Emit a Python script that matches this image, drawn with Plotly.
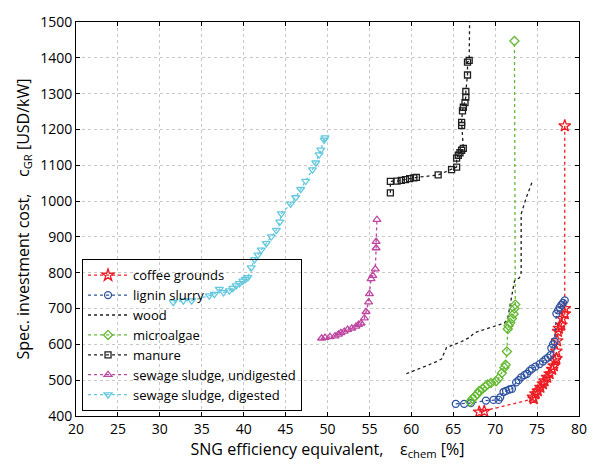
import plotly.graph_objects as go

# ---- data ----
coffee_x = [78.3, 78.3, 78.3, 78.0, 77.9, 77.6, 77.5, 77.4, 77.3, 77.3, 77.1, 77.0, 76.8, 76.5, 76.2, 75.9, 75.7, 75.4, 75.1, 74.8, 74.5, 74.6, 68.7, 68.1]
coffee_y = [1210, 700, 685, 672, 654, 645, 636, 610, 581, 560, 554, 540, 530, 518, 508, 498, 490, 480, 470, 462, 453, 448, 413, 411]

lignin_x = [65.3, 66.3, 67.1, 68.9, 69.8, 70.4, 70.6, 71.0, 71.3, 71.7, 72.0, 72.5, 72.8, 73.1, 73.5, 73.8, 74.1, 74.4, 74.8, 75.3, 75.7, 76.0, 76.3, 76.6, 76.7, 76.9, 77.1, 77.3, 77.5, 77.7, 77.9, 78.1, 78.3]
lignin_y = [434, 434, 436, 443, 445, 445, 452, 467, 470, 474, 476, 494, 500, 508, 514, 518, 526, 532, 538, 545, 552, 558, 563, 570, 590, 600, 608, 686, 695, 703, 710, 716, 723]

wood_x = [59.4, 60.2, 61.0, 62.0, 63.0, 63.6, 64.2, 65.0, 66.0, 67.0, 67.5, 68.5, 69.7, 70.5, 71.1, 71.5, 72.3, 72.9, 73.1, 73.1, 73.7, 74.5]
wood_y = [518, 525, 532, 542, 552, 559, 591, 598, 608, 620, 632, 640, 650, 655, 659, 673, 777, 786, 800, 964, 1009, 1059]

algae_x = [67.0, 67.3, 67.6, 67.9, 68.1, 68.5, 68.8, 69.1, 69.5, 70.1, 70.4, 70.8, 71.1, 71.25, 71.4, 71.5, 71.6, 71.8, 72.0, 72.2, 72.3, 72.4, 72.3]
algae_y = [440, 448, 455, 462, 470, 476, 482, 488, 492, 497, 505, 520, 535, 543, 580, 643, 652, 660, 672, 685, 700, 711, 1447]

manure_x = [57.5, 57.5, 58.3, 58.8, 59.3, 59.8, 60.3, 60.6, 63.2, 64.8, 65.4, 65.4, 65.6, 65.8, 66.0, 66.2, 66.0, 66.0, 66.1, 66.2, 66.4, 66.5, 66.5, 66.7, 66.7, 66.9, 67.0]
manure_y = [1023, 1055, 1056, 1058, 1060, 1063, 1065, 1066, 1073, 1088, 1095, 1120, 1128, 1135, 1142, 1147, 1211, 1220, 1252, 1262, 1275, 1290, 1306, 1352, 1388, 1393, 1600]

undig_x = [49.3, 49.7, 50.3, 50.9, 51.3, 51.6, 52.0, 52.4, 52.9, 53.4, 53.7, 54.0, 54.4, 54.6, 54.9, 55.0, 55.2, 55.4, 55.7, 55.8, 55.8, 55.9]
undig_y = [617, 619, 621, 623, 628, 632, 636, 641, 645, 650, 655, 659, 673, 691, 718, 741, 783, 792, 810, 869, 887, 948]

dig_x = [31.6, 32.8, 33.8, 35.9, 36.5, 37.1, 37.6, 38.3, 38.7, 39.1, 39.5, 39.9, 40.2, 40.5, 40.9, 41.3, 41.7, 42.1, 42.7, 43.3, 43.9, 44.3, 44.5, 45.6, 46.2, 46.8, 47.4, 48.2, 48.6, 49.0, 49.2, 49.6, 49.7]
dig_y = [718, 722, 722, 736, 740, 754, 745, 750, 757, 764, 770, 777, 782, 787, 814, 837, 850, 864, 882, 901, 919, 942, 965, 992, 1010, 1033, 1056, 1088, 1107, 1130, 1143, 1171, 1177]

FONT = "Open Sans"

series = [
    ("coffee grounds", coffee_x, coffee_y, "rgb(237,28,36)", "star-open", 9),
    ("lignin slurry", lignin_x, lignin_y, "rgb(46,82,160)", "circle-open", 7),
    ("wood", wood_x, wood_y, "rgb(30,30,30)", None, 0),
    ("microalgae", algae_x, algae_y, "rgb(100,185,50)", "diamond-open", 7),
    ("manure", manure_x, manure_y, "rgb(30,30,30)", "square-open", 6),
    ("sewage sludge, undigested", undig_x, undig_y, "rgb(190,70,160)", "triangle-up-open", 7),
    ("sewage sludge, digested", dig_x, dig_y, "rgb(100,200,222)", "triangle-down-open", 7),
]

fig = go.Figure()
for name, xs, ys, col, sym, size in series:
    if sym is None:
        fig.add_trace(go.Scatter(x=xs, y=ys, name=name, mode="lines",
                                 line=dict(color=col, width=1.3, dash="dot")))
    else:
        fig.add_trace(go.Scatter(x=xs, y=ys, name=name, mode="lines+markers",
                                 line=dict(color=col, width=1.3, dash="dot"),
                                 marker=dict(symbol=sym, size=size, color=col,
                                             line=dict(color=col, width=1.3))))

axis_common = dict(showline=True, linecolor="black", linewidth=1, mirror="ticks",
                   ticks="inside", ticklen=4, tickcolor="black",
                   showgrid=True, gridcolor="rgb(200,200,200)", griddash="dot", gridwidth=1,
                   zeroline=False, tickfont=dict(family=FONT, size=14, color="black"))

fig.update_xaxes(range=[20, 80], dtick=5, tick0=20, **axis_common,
                 title=dict(text="SNG efficiency equivalent,    ε<sub>chem</sub> [%]",
                            font=dict(family=FONT, size=16, color="black"), standoff=6))
fig.update_yaxes(range=[400, 1500], dtick=100, tick0=400, **axis_common,
                 title=dict(text="Spec. investment cost,    c<sub>GR</sub> [USD/kW]",
                            font=dict(family=FONT, size=16, color="black"), standoff=6))

fig.update_layout(
    width=599, height=468,
    margin=dict(l=76, r=16, t=15, b=52),
    paper_bgcolor="white", plot_bgcolor="white",
    font=dict(family=FONT, color="black"),
    legend=dict(x=0.012, y=0.012, xanchor="left", yanchor="bottom",
                bgcolor="rgba(0,0,0,0)", bordercolor="black", borderwidth=1,
                font=dict(family=FONT, size=13, color="black"),
                tracegroupgap=0, itemwidth=40),
    showlegend=True,
)

fig.write_html("out.html")
